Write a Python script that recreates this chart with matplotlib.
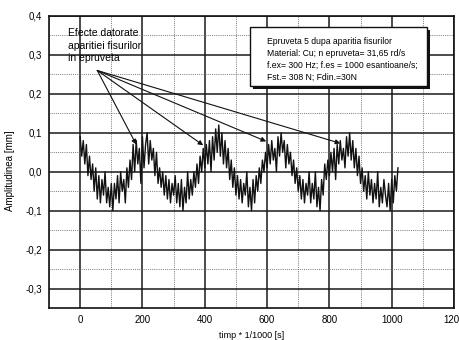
import matplotlib
matplotlib.use("Agg")
import matplotlib.pyplot as plt
from matplotlib.ticker import MultipleLocator, FixedLocator
from matplotlib.patches import Rectangle

plt.rcParams['font.family'] = ['Liberation Sans', 'DejaVu Sans']

# time samples (1/1000 s) and amplitude [mm]
t_samples = list(range(0, 1021, 5))
amplitude = [
    0.09, 0.04, 0.08, 0.02, 0.07, -0.01, 0.04, -0.02, 0.02, -0.05, 0.01, -0.07, -0.01, -0.08, -0.02, -0.06, 0.00, -0.08, -0.04, -0.09,
    -0.03, -0.10, -0.03, -0.07, -0.01, -0.08, 0.00, -0.05, -0.02, -0.08, 0.01, -0.04, 0.03, -0.02, 0.07, 0.00, 0.08, 0.02, 0.06, -0.03,
    0.09, 0.01, 0.07, 0.10, 0.02, 0.08, 0.03, 0.06, -0.01, 0.05, -0.03, 0.01, -0.04, 0.00, -0.06, -0.01, -0.07, -0.02, -0.08, -0.03,
    -0.06, -0.01, -0.08, -0.03, -0.09, -0.02, -0.10, -0.04, -0.08, 0.00, -0.07, -0.02, -0.06, 0.00, -0.04, 0.02, -0.03, 0.04, 0.00, 0.06,
    0.01, 0.07, 0.02, 0.08, 0.00, 0.09, 0.03, 0.11, 0.05, 0.12, 0.04, 0.10, 0.02, 0.08, 0.01, 0.06, -0.02, 0.03, -0.04, 0.01,
    -0.06, -0.01, -0.07, -0.02, -0.08, -0.03, -0.06, 0.00, -0.09, -0.04, -0.10, -0.02, -0.08, -0.01, -0.05, 0.01, -0.03, 0.03, 0.00, 0.05,
    0.01, 0.07, 0.02, 0.08, 0.03, 0.06, 0.00, 0.09, 0.04, 0.10, 0.05, 0.08, 0.01, 0.07, 0.02, 0.05, -0.01, 0.03, -0.03, 0.01,
    -0.05, -0.01, -0.07, -0.02, -0.08, -0.03, -0.06, 0.00, -0.08, -0.03, -0.07, 0.00, -0.09, -0.04, -0.10, -0.02, -0.06, 0.02, -0.02, 0.03,
    -0.01, 0.05, 0.00, 0.06, -0.02, 0.07, 0.02, 0.08, 0.03, 0.06, 0.01, 0.09, 0.04, 0.10, 0.03, 0.08, 0.01, 0.06, -0.01, 0.04,
    -0.03, 0.01, -0.05, -0.01, -0.07, 0.00, -0.06, -0.02, -0.08, -0.03, -0.07, 0.00, -0.09, -0.04, -0.08, -0.02, -0.06, -0.09, -0.03, -0.10,
    -0.02, -0.08, -0.01, -0.05, 0.01,
]

# annotation arrows: origin and targets (data coords)
arrow_origin = (55, 0.26)
arrow_targets_x = [180, 395, 597, 835]
arrow_targets_y = [0.07, 0.068, 0.078, 0.073]

x_ticks = [0, 200, 400, 600, 800, 1000, 1200]
y_ticks = [0.4, 0.3, 0.2, 0.1, 0.0, -0.1, -0.2, -0.3]
y_tick_labels = ['0,4', '0,3', '0,2', '0,1', '0,0', '-0,1', '-0,2', '-0,3']

info_lines = [
    "Epruveta 5 dupa aparitia fisurilor",
    "Material: Cu; n epruveta= 31,65 rd/s",
    "f.ex= 300 Hz; f.es = 1000 esantioane/s;",
    "Fst.= 308 N; Fdin.=30N",
]
note_text = "Efecte datorate\naparitiei fisurilor\nin epruveta"

fig = plt.figure(figsize=(4.6, 3.4), dpi=100)
ax = fig.add_axes([0.1065, 0.094, 0.8805, 0.859])
ax.set_xlim(-100, 1200)
ax.set_ylim(-0.35, 0.4)

ax.xaxis.set_major_locator(FixedLocator(x_ticks))
ax.xaxis.set_minor_locator(MultipleLocator(100))
ax.yaxis.set_major_locator(FixedLocator(y_ticks))
ax.yaxis.set_minor_locator(MultipleLocator(0.05))
ax.set_yticklabels(y_tick_labels)
ax.set_xticklabels([str(v) for v in x_ticks])

ax.grid(which='major', color='#1a1a1a', linewidth=1.1, linestyle='-')
ax.grid(which='minor', color='#777777', linewidth=0.7, linestyle=(0, (1, 1.2)))
ax.set_axisbelow(True)
ax.tick_params(which='both', direction='in', length=0, labelsize=7, pad=5)
for s in ax.spines.values():
    s.set_linewidth(1.2)
    s.set_color('#111111')

ax.plot(t_samples, amplitude, color='#111111', linewidth=1.0, zorder=3)

ax.set_xlabel("timp * 1/1000 [s]", fontsize=6.5, labelpad=4)
ax.set_ylabel("Amplitudinea [mm]", fontsize=7, family=['Liberation Sans Narrow', 'Liberation Sans'])
ax.yaxis.set_label_coords(-0.085, 0.47)

for tx, ty in zip(arrow_targets_x, arrow_targets_y):
    ax.annotate("", xy=(tx, ty), xytext=arrow_origin,
                arrowprops=dict(arrowstyle='-|>', color='#111111', lw=0.8,
                                mutation_scale=7, shrinkA=0, shrinkB=0), zorder=4)

ax.text(-38, 0.368, note_text, fontsize=7.5, va='top', ha='left',
        family=['Liberation Sans Narrow', 'Liberation Sans'], linespacing=1.3, zorder=5)

# info box with shadow (figure pixel coords)
bx0, by0, bx1, by1 = 250, 340 - 86, 427, 340 - 27
shadow = Rectangle((bx0 + 3, by0 - 3), bx1 - bx0, by1 - by0, transform=None,
                   facecolor='#111111', edgecolor='none', zorder=5)
box = Rectangle((bx0, by0), bx1 - bx0, by1 - by0, transform=None,
                facecolor='white', edgecolor='#111111', linewidth=1.0, zorder=6)
fig.patches.extend([shadow, box])
for i, line in enumerate(info_lines):
    fig.text(267 / 460, 1 - (41 + 12 * i) / 340, line, fontsize=6.2, va='center', ha='left',
             family=['Liberation Sans Narrow', 'Liberation Sans'], zorder=7)

fig.savefig("out.png", dpi=100, facecolor='white')
